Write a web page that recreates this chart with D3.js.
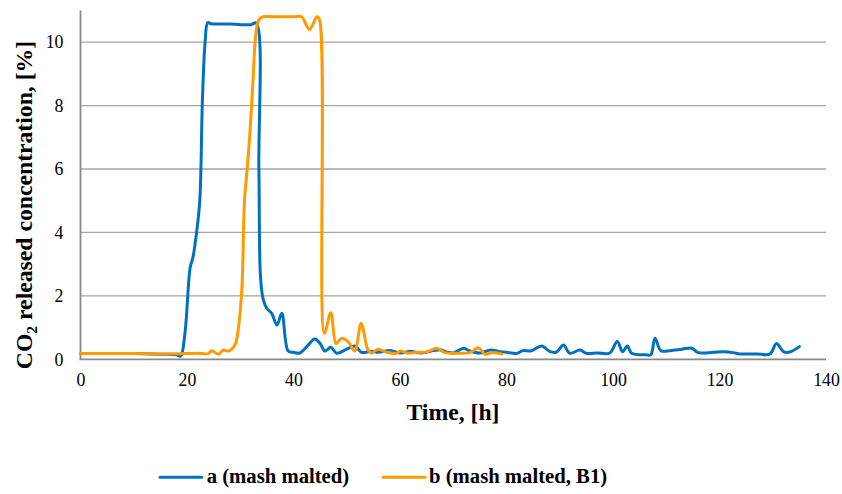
<!DOCTYPE html>
<html>
<head>
<meta charset="utf-8">
<script src="https://cdn.jsdelivr.net/npm/d3@7/dist/d3.min.js"></script>
<style>
  html, body { margin: 0; padding: 0; background: #fff; }
  svg { display: block; }
</style>
</head>
<body>
<svg id="chart" width="842" height="494" font-family="Liberation Serif, Times New Roman, serif"></svg>
<script>
// ---- data ----
const timeA = [0, 5, 10, 15, 18, 18.8, 19.6, 20.6, 21.1, 21.8, 22.4, 22.9, 23.4, 23.9, 24.5, 26, 28, 30, 32, 33.0, 33.5, 33.8, 34.3, 35.0, 35.9, 36.9, 37.8, 39.0, 40.0, 41.2, 42.5, 44.0, 45.0, 45.9, 47.0, 48.1, 50.0, 51.5, 52.8, 54.5, 56, 58, 60, 62, 64, 67.5, 69, 70, 72, 73, 75, 77, 78.5, 80, 82, 83, 84.7, 86.6, 88.2, 89.4, 90.7, 91.9, 93.8, 95, 97, 99.4, 100.8, 101.8, 102.7, 103.5, 106.3, 107.1, 107.9, 109, 110.7, 113, 114.8, 116, 118.8, 120.7, 122.6, 123.8, 127, 129.5, 130.7, 132, 133.2, 135];
const valuesA = [0.18, 0.18, 0.18, 0.16, 0.14, 0.1, 0.8, 2.9, 3.2, 4.0, 5.0, 8.2, 10.0, 10.62, 10.58, 10.57, 10.57, 10.55, 10.55, 10.6, 6.0, 2.6, 1.9, 1.6, 1.45, 1.08, 1.45, 0.26, 0.22, 0.2, 0.4, 0.64, 0.5, 0.26, 0.38, 0.19, 0.32, 0.42, 0.22, 0.25, 0.22, 0.28, 0.2, 0.25, 0.2, 0.3, 0.22, 0.2, 0.35, 0.27, 0.2, 0.29, 0.25, 0.22, 0.19, 0.27, 0.27, 0.42, 0.24, 0.23, 0.45, 0.19, 0.29, 0.19, 0.2, 0.2, 0.56, 0.24, 0.42, 0.19, 0.14, 0.14, 0.66, 0.27, 0.27, 0.32, 0.35, 0.21, 0.22, 0.24, 0.21, 0.17, 0.17, 0.17, 0.5, 0.24, 0.23, 0.4];

const timeB = [0, 10, 15, 20, 22, 24, 24.6, 25.9, 26.8, 27.8, 29.0, 29.6, 30.3, 30.8, 31.3, 31.8, 32.4, 32.9, 33.5, 34.3, 36, 38, 40, 41.5, 43.0, 44.4, 44.9, 45.8, 47.0, 48.0, 49.0, 50.3, 51.5, 52.7, 54.0, 54.7, 55.9, 57.5, 59.4, 60.0, 61.3, 63.1, 65.0, 66.9, 68.5, 70.6, 73.1, 74.7, 76.0, 77.2, 79.1];
const valuesB = [0.18, 0.18, 0.17, 0.18, 0.19, 0.18, 0.27, 0.16, 0.29, 0.26, 0.45, 0.92, 2.2, 5.0, 6.0, 7.1, 8.8, 10.2, 10.7, 10.8, 10.8, 10.8, 10.8, 10.8, 10.4, 10.8, 10.7, 0.82, 1.47, 0.5, 0.66, 0.55, 0.26, 1.13, 0.29, 0.2, 0.32, 0.22, 0.19, 0.26, 0.2, 0.22, 0.23, 0.35, 0.21, 0.19, 0.21, 0.36, 0.16, 0.21, 0.17];

const xTicks = [0, 20, 40, 60, 80, 100, 120, 140];
const yTicks = [0, 2, 4, 6, 8, 10];
const seriesNames = ["a (mash malted)", "b (mash malted, B1)"];
const seriesColors = ["#0070C0", "#FF9A00"];

// ---- layout ----
const FONT = "Liberation Serif, Times New Roman, serif";
const svg = d3.select("#chart");
const x = d3.scaleLinear().domain([0, 140]).range([80.5, 826]);
const y = d3.scaleLinear().domain([0, 11]).range([359.3, 10.4]);

// gridlines
svg.append("g").selectAll("line")
  .data(yTicks.filter(d => d > 0))
  .join("line")
  .attr("x1", x(0)).attr("x2", x(140))
  .attr("y1", d => y(d)).attr("y2", d => y(d))
  .attr("stroke", "#A6A6A6").attr("stroke-width", 1.3);

// axes lines
svg.append("line").attr("x1", x(0)).attr("x2", x(0)).attr("y1", y(11)).attr("y2", y(0))
  .attr("stroke", "#898989").attr("stroke-width", 1.8);
svg.append("line").attr("x1", x(0) - 1).attr("x2", x(140)).attr("y1", y(0)).attr("y2", y(0))
  .attr("stroke", "#898989").attr("stroke-width", 1.8);

// tick labels via d3 axes
const xAxis = d3.axisBottom(x).tickValues(xTicks).tickSize(0).tickPadding(14).tickFormat(d3.format("d"));
const gx = svg.append("g").attr("transform", `translate(0,${y(0)})`).call(xAxis)
  .attr("font-family", FONT).attr("font-size", 17.8);
gx.select(".domain").remove();
gx.selectAll("text").attr("fill", "#000").attr("font-family", FONT);

const yAxis = d3.axisLeft(y).tickValues(yTicks).tickSize(0).tickPadding(17).tickFormat(d3.format("d"));
const gy = svg.append("g").attr("transform", `translate(${x(0)},0)`).call(yAxis)
  .attr("font-family", FONT).attr("font-size", 17.8);
gy.select(".domain").remove();
gy.selectAll("text").attr("fill", "#000").attr("font-family", FONT);

// lines
const line = d3.line().x(d => x(d[0])).y(d => y(d[1])).curve(d3.curveCatmullRom.alpha(0.5));
const dataA = timeA.map((t, i) => [t, valuesA[i]]);
const dataB = timeB.map((t, i) => [t, valuesB[i]]);
[dataA, dataB].forEach((data, i) => {
  svg.append("path").datum(data).attr("d", line)
    .attr("fill", "none").attr("stroke", seriesColors[i]).attr("stroke-width", 3)
    .attr("stroke-linejoin", "round").attr("stroke-linecap", "round");
});

// axis titles
svg.append("text").attr("x", 453).attr("y", 420).attr("text-anchor", "middle")
  .attr("font-family", FONT).attr("font-size", 23.7).attr("font-weight", "bold").attr("fill", "#000")
  .text("Time, [h]");

const yt = svg.append("text").attr("transform", "translate(32,205) rotate(-90)").attr("text-anchor", "middle")
  .attr("font-family", FONT).attr("font-size", 23.7).attr("font-weight", "bold").attr("fill", "#000");
yt.append("tspan").text("CO");
yt.append("tspan").attr("dy", 5).attr("font-size", 15.5).text("2");
yt.append("tspan").attr("dy", -5).text(" released concentration, [%]");

// legend
const legendItems = [
  { x1: 160, x2: 201.7, tx: 206.7 },
  { x1: 383, x2: 425, tx: 429 }
];
legendItems.forEach((it, i) => {
  svg.append("line").attr("x1", it.x1).attr("x2", it.x2).attr("y1", 477.3).attr("y2", 477.3)
    .attr("stroke", seriesColors[i]).attr("stroke-width", 3).attr("stroke-linecap", "round");
  svg.append("text").attr("x", it.tx).attr("y", 482.5)
    .attr("font-family", FONT).attr("font-size", 20.7).attr("font-weight", "bold").attr("fill", "#000")
    .text(seriesNames[i]);
});
</script>
</body>
</html>
